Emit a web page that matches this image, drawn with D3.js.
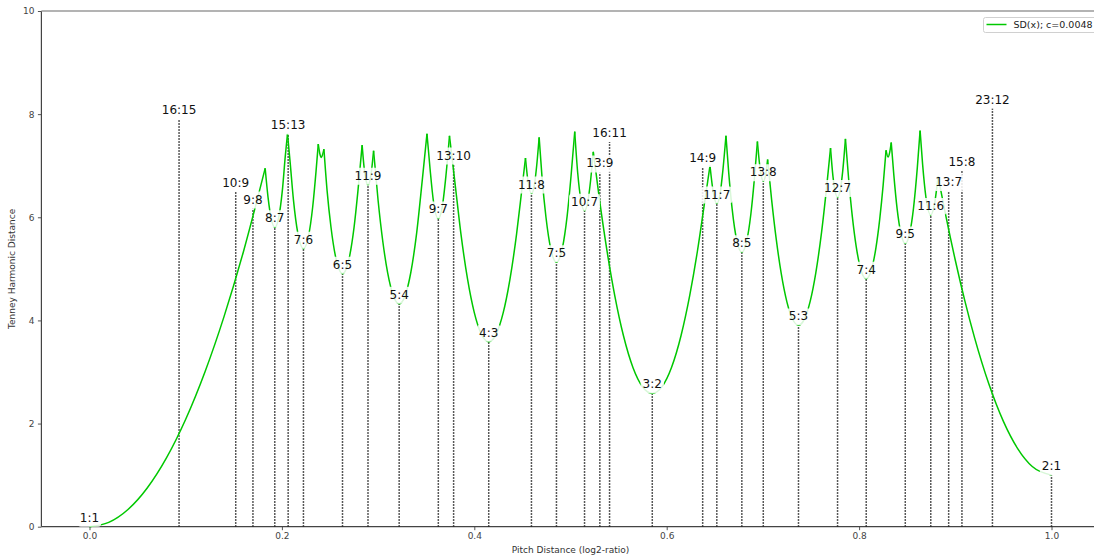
<!DOCTYPE html>
<html>
<head>
<meta charset="utf-8">
<script src="https://cdn.jsdelivr.net/npm/d3@7"></script>
<style>
body { margin:0; overflow:hidden; background:#fff; }
svg { display:block; font-family:"DejaVu Sans", sans-serif; }
</style>
</head>
<body>
<svg id="chart" width="1094" height="560"></svg>
<script>
// ratio markers: label, pitch distance (log2 of ratio), tenney height
var ratioLabels = ["1:1","16:15","10:9","9:8","8:7","15:13","7:6","6:5","11:9","5:4","9:7","13:10","4:3","11:8","7:5","10:7","13:9","16:11","3:2","14:9","11:7","8:5","13:8","5:3","12:7","7:4","9:5","11:6","13:7","15:8","23:12","2:1"];
var ratioX = [0, 0.0931, 0.152, 0.1699, 0.1926, 0.2065, 0.2224, 0.263, 0.2895, 0.3219, 0.3626, 0.3785, 0.415, 0.4594, 0.4854, 0.5146, 0.5305, 0.5406, 0.585, 0.6374, 0.6521, 0.6781, 0.7004, 0.737, 0.7776, 0.8074, 0.848, 0.8745, 0.8931, 0.9069, 0.9386, 1.0];
var ratioH = [0, 7.907, 6.492, 6.17, 5.807, 7.607, 5.392, 4.907, 6.629, 4.322, 5.977, 7.022, 3.585, 6.459, 5.129, 6.129, 6.87, 7.459, 2.585, 6.977, 6.267, 5.322, 6.7, 3.907, 6.392, 4.807, 5.492, 6.044, 6.508, 6.907, 8.109, 1.0];

// SD(x) curve (dips, cusps and points on each arc)
var sdPoints = [
	[0,0],[0.02,0.083],[0.04,0.333],[0.06,0.75],[0.08,1.333],[0.1,2.083],[0.12,3.0],[0.14,4.083],[0.16,5.333],[0.1826,6.95],
	[0.1856,6.387],[0.1891,5.954],[0.19265,5.807],[0.1965,5.98],[0.2005,6.526],[0.2035,7.18],[0.2058,7.62],
	[0.2085,7.08],[0.212,6.337],[0.2165,5.696],[0.22239,5.392],[0.2275,5.62],[0.232,6.2],[0.2355,6.896],[0.2378,7.42],
	[0.2395,7.227],[0.24101,7.16],[0.2425,7.227],[0.2437,7.32],
	[0.247,6.513],[0.251,5.812],[0.256,5.216],[0.26303,4.907],[0.27,5.211],[0.275,5.803],[0.279,6.501],[0.2834,7.4],
	[0.2855,6.959],[0.2875,6.712],[0.2895,6.629],[0.2915,6.712],[0.2935,6.959],[0.2953,7.29],
	[0.3,6.326],[0.305,5.516],[0.31,4.915],[0.316,4.469],[0.32193,4.322],[0.328,4.476],[0.334,4.929],[0.34,5.683],[0.346,6.736],[0.3508,7.62],
	[0.354,6.941],[0.3575,6.314],[0.36257,5.977],[0.3665,6.18],[0.3705,6.802],[0.3742,7.58],
	[0.38,6.654],[0.386,5.693],[0.393,4.799],[0.4,4.151],[0.407,3.747],[0.41504,3.585],[0.423,3.744],[0.43,4.145],[0.437,4.791],[0.444,5.682],[0.449,6.468],[0.4532,7.15],
	[0.4555,6.742],[0.45943,6.459],[0.4625,6.632],[0.465,7.028],[0.4674,7.55],
	[0.4705,6.754],[0.4745,6.0],[0.4795,5.385],[0.48543,5.129],[0.4915,5.398],[0.4965,6.023],[0.5005,6.785],[0.5044,7.66],
	[0.5075,6.858],[0.511,6.315],[0.51457,6.129],[0.518,6.301],[0.521,6.732],[0.5237,7.27],
	[0.53,6.361],[0.538,5.342],[0.546,4.482],[0.555,3.707],[0.565,3.083],[0.575,2.709],[0.58496,2.585],[0.595,2.711],[0.605,3.087],[0.615,3.713],[0.624,4.49],[0.632,5.351],[0.639,6.235],[0.645,7.0],
	[0.6485,6.473],[0.65208,6.267],[0.6555,6.455],[0.6585,6.928],[0.6616,7.58],
	[0.6645,6.857],[0.668,6.167],[0.673,5.536],[0.67807,5.322],[0.683,5.525],[0.6875,6.063],[0.691,6.715],[0.6943,7.47],
	[0.6965,7.036],[0.6985,6.782],[0.70044,6.7],[0.7025,6.792],[0.7049,7.12],
	[0.709,6.352],[0.714,5.556],[0.719,4.916],[0.725,4.355],[0.731,4.018],[0.73697,3.907],[0.743,4.021],[0.749,4.359],[0.755,4.923],[0.761,5.712],[0.766,6.541],[0.7703,7.34],
	[0.7728,6.797],[0.775,6.511],[0.77761,6.392],[0.7805,6.538],[0.783,6.9],[0.7858,7.52],
	[0.789,6.771],[0.793,6.008],[0.797,5.432],[0.802,4.974],[0.80735,4.807],[0.8125,4.962],[0.8175,5.408],[0.8215,5.975],[0.825,6.624],[0.828,7.3],
	[0.83007,7.17],[0.8318,7.26],[0.8334,7.45],
	[0.836,6.842],[0.8395,6.169],[0.8435,5.682],[0.848,5.492],[0.8525,5.682],[0.8565,6.169],[0.8605,6.957],[0.8634,7.68],
	[0.866,7.03],[0.8695,6.384],[0.87447,6.044],[0.878,6.215],[0.8821,6.79],
	[0.89,6.042],[0.9,5.167],[0.91,4.375],[0.92,3.667],[0.935,2.761],[0.95,2.042],[0.965,1.51],[0.98,1.167],[1.0,1.0]
];
// sharp peaks where one arc meets the next
var cuspX = [0.1826,0.2058,0.2378,0.2437,0.2834,0.2953,0.3508,0.3742,0.4532,0.4674,0.5044,0.5237,0.645,0.6616,0.6943,0.7049,0.7703,0.7858,0.828,0.8334,0.8634,0.8821];

var xTicks = [0, 0.2, 0.4, 0.6, 0.8, 1.0];
var yTicks = [0, 2, 4, 6, 8, 10];
var legendLabel = "SD(x); c=0.0048";

function drawChart() {
	var svg = d3.select("#chart");
	var plotLeft = 41.4, plotRight = 1099.6, plotTop = 11, plotBottom = 526.7;
	var x = d3.scaleLinear().domain([-0.05, 1.05]).range([plotLeft, plotRight]);
	var y = d3.scaleLinear().domain([0, 10]).range([plotBottom, plotTop]);
	var green = "#00c800";

	// axes
	var xAxis = svg.append("g")
		.attr("transform", "translate(0," + plotBottom + ")")
		.call(d3.axisBottom(x).tickValues(xTicks).tickFormat(d3.format(".1f")).tickSize(3.5).tickPadding(2.5));
	var yAxis = svg.append("g")
		.attr("transform", "translate(" + plotLeft + ",0)")
		.call(d3.axisLeft(y).tickValues(yTicks).tickFormat(function(d) { return d; }).tickSize(3.5).tickPadding(3.5));
	[xAxis, yAxis].forEach(function(g) {
		g.select(".domain").remove();
		g.selectAll(".tick line").attr("stroke", "#555");
		g.selectAll(".tick text").attr("fill", "#444").style("font-size", "9px").style("font-family", "DejaVu Sans");
	});

	// spines
	svg.append("line").attr("x1", plotLeft).attr("x2", plotLeft).attr("y1", plotTop).attr("y2", plotBottom).attr("stroke", "#444").attr("stroke-width", 1.2);
	svg.append("line").attr("x1", plotLeft).attr("x2", plotRight).attr("y1", plotBottom).attr("y2", plotBottom).attr("stroke", "#444").attr("stroke-width", 1.2);
	svg.append("line").attr("x1", plotLeft).attr("x2", plotRight).attr("y1", plotTop).attr("y2", plotTop).attr("stroke", "#9a9a9a").attr("stroke-width", 1.5);
	svg.append("line").attr("x1", plotRight).attr("x2", plotRight).attr("y1", plotTop).attr("y2", plotBottom).attr("stroke", "#444").attr("stroke-width", 1.2);

	// axis titles
	svg.append("text").attr("x", (plotLeft + plotRight) / 2).attr("y", 553)
		.attr("text-anchor", "middle").style("font-size", "9px").attr("fill", "#333")
		.text("Pitch Distance (log2-ratio)");
	svg.append("text").attr("transform", "translate(15," + ((plotTop + plotBottom) / 2) + ") rotate(-90)")
		.attr("text-anchor", "middle").style("font-size", "9px").attr("fill", "#333")
		.text("Tenney Harmonic Distance");

	// dotted ratio lines
	svg.append("g").selectAll("line").data(ratioX).enter().append("line")
		.attr("x1", function(d) { return x(d); })
		.attr("x2", function(d) { return x(d); })
		.attr("y1", y(0))
		.attr("y2", function(d, i) { return y(ratioH[i]); })
		.attr("stroke", "#222")
		.attr("stroke-width", 1.5)
		.attr("stroke-dasharray", "1.5,1.5");

	// curve, split at cusps so the peaks stay sharp
	var segments = [];
	var cur = [];
	sdPoints.forEach(function(p) {
		cur.push(p);
		if (cuspX.indexOf(p[0]) >= 0 && cur.length > 1) {
			segments.push(cur);
			cur = [p];
		}
	});
	if (cur.length > 1) segments.push(cur);

	var line = d3.line()
		.x(function(d) { return x(d[0]); })
		.y(function(d) { return y(d[1]); })
		.curve(d3.curveMonotoneX);
	svg.append("g").selectAll("path").data(segments).enter().append("path")
		.attr("d", line)
		.attr("fill", "none")
		.attr("stroke", green)
		.attr("stroke-width", 1.5);

	// ratio labels with translucent white boxes
	var labels = svg.append("g");
	ratioLabels.forEach(function(lab, i) {
		var g = labels.append("g");
		var t = g.append("text")
			.attr("x", x(ratioX[i]))
			.attr("y", y(ratioH[i]) - 5)
			.attr("text-anchor", "middle")
			.style("font-size", "12px")
			.attr("fill", "#111")
			.text(lab);
		var bb = t.node().getBBox();
		g.insert("rect", "text")
			.attr("x", bb.x - 2)
			.attr("y", bb.y - 1)
			.attr("width", bb.width + 4)
			.attr("height", bb.height + 3)
			.attr("rx", 3)
			.attr("fill", "#fff")
			.attr("fill-opacity", 0.85);
	});

	// legend
	var lg = svg.append("g").attr("transform", "translate(983.5,17.5)");
	lg.append("rect").attr("width", 130).attr("height", 15).attr("rx", 2)
		.attr("fill", "#fff").attr("fill-opacity", 0.8).attr("stroke", "#d0d0d0");
	lg.append("line").attr("x1", 3).attr("x2", 23).attr("y1", 7).attr("y2", 7)
		.attr("stroke", green).attr("stroke-width", 1.5);
	lg.append("text").attr("x", 30).attr("y", 10.8).style("font-size", "9.5px").attr("fill", "#222")
		.text(legendLabel);
}

drawChart();
</script>
</body>
</html>
